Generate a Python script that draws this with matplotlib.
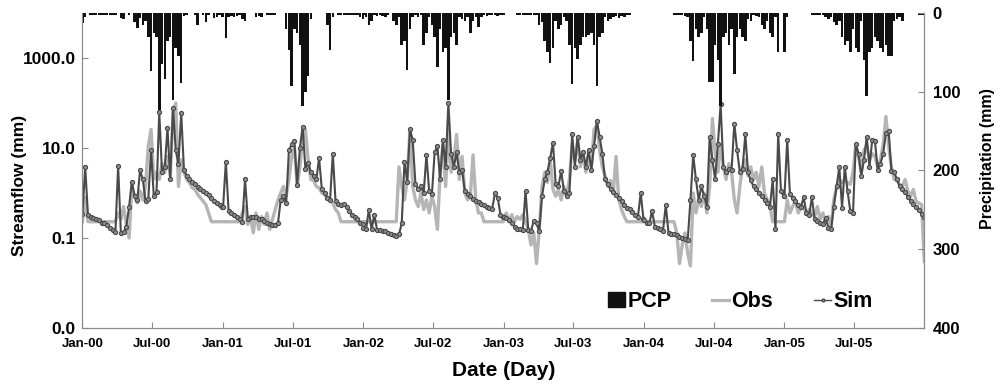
import numpy as np
import pandas as pd
import matplotlib
matplotlib.use("Agg")
import matplotlib.pyplot as plt
import matplotlib.dates as mdates
from matplotlib.lines import Line2D
from matplotlib.patches import Patch

plt.rcParams['font.family'] = ['Liberation Sans', 'DejaVu Sans']
plt.rcParams['font.weight'] = 'bold'

years = [2000, 2001, 2002, 2003, 2004, 2005]

# weekly values (52 per year)
sim_2000 = [0.35, 3.8, 0.32, 0.3, 0.28, 0.26, 0.25, 0.22, 0.21, 0.19, 0.17, 0.15, 0.135,
            4.0, 0.13, 0.135, 0.18, 0.5, 1.8, 0.85, 0.7, 3.2, 2.0, 0.65, 0.72, 9.0,
            0.85, 1.05, 63, 2.9, 3.8, 28, 2.0, 78, 9.0, 4.5, 60, 3.3, 2.4, 2.0,
            1.75, 1.55, 1.35, 1.2, 1.1, 1.0, 0.88, 0.77, 0.68, 0.6, 0.54, 0.49]
sim_2001 = [0.49, 5.0, 0.4, 0.36, 0.33, 0.29, 0.26, 0.23, 2.0, 0.27, 0.29, 0.3, 0.29,
            0.27, 0.26, 0.24, 0.21, 0.2, 0.19, 0.19, 0.21, 0.7, 0.85, 0.6, 9.0, 12,
            14, 1.5, 10, 30, 3.5, 4.6, 2.9, 2.4, 2.0, 6.0, 1.2, 1.0, 0.78, 0.7,
            7.5, 0.65, 0.58, 0.55, 0.58, 0.5, 0.4, 0.33, 0.3, 0.26, 0.22, 0.2]
sim_2002 = [0.17, 0.16, 0.42, 0.155, 0.33, 0.15, 0.15, 0.145, 0.14, 0.13, 0.12, 0.115, 0.11,
            0.12, 0.21, 5.0, 1.8, 26, 15, 1.55, 1.2, 1.4, 1.0, 7.0, 1.1, 0.93,
            8.0, 11, 2.0, 15, 3.8, 100, 7.5, 3.8, 8.0, 2.9, 3.3, 1.1, 0.93, 0.85,
            0.74, 0.68, 0.63, 0.58, 0.54, 0.5, 0.47, 0.45, 1.0, 0.78, 0.33, 0.3]
sim_2003 = [0.3, 0.28, 0.25, 0.21, 0.18, 0.16, 0.155, 0.15, 1.1, 0.15, 0.145, 0.24, 0.21,
            0.14, 0.85, 2.0, 2.9, 6.0, 13, 1.55, 1.4, 3.1, 1.1, 0.85, 1.0, 20,
            3.8, 18, 5.5, 8.0, 3.8, 9.0, 3.3, 11, 40, 18, 7.5, 2.0, 1.55, 1.2,
            1.05, 0.9, 0.78, 0.65, 0.55, 0.47, 0.43, 0.38, 0.33, 0.3, 1.0, 0.26]
sim_2004 = [0.25, 0.22, 0.21, 0.4, 0.18, 0.17, 0.155, 0.145, 0.55, 0.13, 0.125, 0.12, 0.115,
            0.105, 0.1, 0.095, 0.09, 0.7, 7.0, 2.0, 0.7, 1.4, 0.85, 0.5, 18, 5.5,
            2.0, 12, 93, 3.8, 2.9, 3.5, 3.3, 35, 9.0, 2.9, 3.5, 20, 2.9, 1.9,
            1.4, 1.2, 1.0, 0.85, 0.7, 0.6, 0.5, 2.0, 0.155, 20, 1.1, 0.85]
sim_2005 = [0.85, 15, 0.93, 0.78, 0.65, 0.55, 0.49, 0.8, 0.36, 0.32, 0.8, 0.26, 0.24,
            0.21, 0.2, 0.28, 0.17, 0.155, 0.5, 1.4, 3.8, 0.47, 3.8, 1.1, 0.4, 0.36,
            12, 7.5, 2.4, 5.5, 18, 3.8, 15, 14, 3.3, 4.5, 7.5, 22, 24, 3.1,
            2.9, 2.0, 1.4, 1.2, 1.05, 0.82, 0.68, 0.58, 0.49, 0.42, 0.35, 0.3]

obs_2000 = [0.23, 0.8, 0.23, 0.23, 0.23, 0.23, 0.23, 0.23, 0.23, 0.23, 0.23, 0.23, 0.23,
            0.36, 0.26, 0.5, 0.2, 0.1, 1.4, 0.85, 0.6, 1.1, 0.7, 1.4, 11, 26,
            2.0, 2.9, 2.0, 4.5, 2.9, 6.5, 2.4, 60, 100, 1.4, 5.5, 2.9, 2.0, 1.7,
            1.3, 1.2, 0.93, 0.78, 0.65, 0.55, 0.36, 0.23, 0.23, 0.23, 0.23, 0.23]
obs_2001 = [0.23, 0.23, 0.23, 0.23, 0.23, 0.23, 0.23, 0.36, 0.5, 0.2, 0.3, 0.13, 0.36,
            0.155, 0.3, 0.2, 0.36, 0.155, 0.26, 0.43, 0.7, 1.0, 1.4, 0.85, 2.0, 6.5,
            11, 1.4, 3.8, 15, 26, 5.5, 2.0, 1.9, 1.4, 1.3, 1.0, 0.93, 0.78, 0.7,
            0.6, 0.43, 0.36, 0.23, 0.23, 0.23, 0.23, 0.23, 0.23, 0.23, 0.23, 0.23]
obs_2002 = [0.23, 0.23, 0.23, 0.23, 0.23, 0.23, 0.23, 0.23, 0.23, 0.23, 0.23, 0.23, 0.23,
            3.8, 1.4, 0.7, 2.0, 26, 1.4, 0.7, 0.5, 1.0, 0.43, 0.7, 0.36, 0.85,
            0.5, 0.155, 2.9, 12, 1.4, 26, 2.9, 5.5, 20, 2.0, 6.5, 1.0, 0.7, 0.85,
            7.0, 0.7, 0.36, 0.36, 0.23, 0.23, 0.23, 0.23, 0.23, 0.23, 0.23, 0.23]
obs_2003 = [0.3, 0.36, 0.23, 0.33, 0.23, 0.3, 0.26, 0.33, 0.23, 0.155, 0.07, 0.13, 0.027,
            0.155, 1.4, 2.9, 1.7, 5.5, 1.2, 0.85, 1.2, 0.7, 1.4, 0.85, 2.0, 12,
            5.5, 15, 3.8, 7.5, 2.9, 6.5, 3.8, 26, 32, 9.0, 3.8, 2.4, 1.4, 1.9,
            1.0, 6.5, 0.7, 0.43, 0.3, 0.23, 0.23, 0.23, 0.23, 0.23, 0.23, 0.23]
obs_2004 = [0.23, 0.23, 0.23, 0.23, 0.23, 0.23, 0.23, 0.23, 0.23, 0.23, 0.23, 0.23, 0.13,
            0.027, 0.07, 0.13, 0.045, 0.024, 1.0, 0.36, 0.7, 0.5, 1.0, 0.36, 1.4, 45,
            7.5, 2.9, 12, 3.8, 2.0, 4.5, 2.9, 0.7, 0.36, 1.4, 3.8, 5.5, 2.4, 3.8,
            2.0, 2.9, 1.4, 3.8, 1.0, 0.7, 0.5, 0.23, 0.23, 0.23, 0.23, 0.23]
obs_2005 = [0.23, 0.7, 0.36, 0.5, 0.7, 0.36, 0.47, 0.5, 0.33, 0.43, 0.36, 0.3, 0.5,
            0.26, 0.36, 0.22, 0.3, 0.18, 0.7, 1.4, 2.0, 1.7, 1.9, 1.7, 1.55, 2.9,
            12, 6.5, 2.9, 9.0, 11, 5.5, 7.5, 6.5, 3.8, 5.5, 12, 50, 11, 3.8,
            2.0, 1.9, 1.55, 1.4, 2.0, 1.1, 0.85, 1.2, 0.65, 0.6, 0.55, 0.03]

pcp_2000 = [13, 5, 0, 3, 3, 2, 3, 2, 3, 2, 3, 3, 2,
            0, 6, 8, 0, 3, 0, 12, 19, 6, 15, 10, 30, 74,
            25, 30, 123, 65, 84, 35, 30, 110, 45, 55, 89, 4, 3, 0,
            0, 3, 15, 0, 3, 12, 3, 0, 6, 5, 3, 5]
pcp_2001 = [3, 32, 5, 4, 5, 4, 3, 8, 10, 0, 0, 0, 5,
            4, 5, 0, 3, 2, 3, 2, 0, 0, 0, 20, 47, 93,
            20, 25, 40, 118, 100, 80, 8, 0, 0, 0, 0, 0, 15, 47,
            5, 0, 3, 3, 2, 3, 2, 3, 3, 3, 5, 8]
pcp_2002 = [3, 5, 15, 10, 3, 4, 3, 4, 5, 3, 0, 10, 15,
            5, 40, 35, 72, 20, 5, 3, 5, 3, 40, 25, 5, 15,
            30, 68, 20, 50, 45, 110, 30, 25, 40, 5, 8, 10, 5, 25,
            10, 5, 18, 5, 3, 4, 2, 3, 3, 4, 3, 3]
pcp_2003 = [3, 0, 0, 0, 0, 2, 3, 3, 2, 3, 3, 2, 3,
            15, 12, 35, 50, 64, 45, 10, 20, 15, 5, 10, 40, 90,
            45, 58, 40, 30, 30, 28, 25, 40, 93, 30, 25, 5, 10, 8,
            5, 4, 6, 4, 5, 3, 2, 0, 0, 0, 0, 0]
pcp_2004 = [0, 0, 0, 0, 0, 0, 0, 0, 0, 0, 0, 3, 3,
            2, 3, 4, 5, 35, 61, 20, 30, 25, 5, 20, 87, 88,
            40, 60, 118, 30, 25, 40, 20, 77, 30, 20, 30, 35, 8, 10,
            3, 4, 5, 15, 20, 10, 25, 30, 5, 49, 0, 0]
pcp_2005 = [49, 5, 0, 0, 0, 0, 0, 0, 0, 0, 3, 3, 2,
            3, 3, 5, 8, 5, 12, 15, 10, 30, 41, 35, 50, 20,
            45, 50, 10, 60, 105, 50, 45, 30, 35, 45, 50, 40, 55, 55,
            10, 8, 5, 10, 0, 0, 0, 0, 0, 3, 2, 3]

sim = sim_2000 + sim_2001 + sim_2002 + sim_2003 + sim_2004 + sim_2005
obs = obs_2000 + obs_2001 + obs_2002 + obs_2003 + obs_2004 + obs_2005
pcp = pcp_2000 + pcp_2001 + pcp_2002 + pcp_2003 + pcp_2004 + pcp_2005

dates = []
for y in years:
    start = pd.Timestamp(f"{y}-01-01")
    for d in np.linspace(0, 364, 52):
        dates.append(start + pd.Timedelta(days=float(d)))
dates = pd.to_datetime(dates)

fig = plt.figure(figsize=(10.01, 3.87), dpi=100)
ax = fig.add_axes([0.0824, 0.1525, 0.8410, 0.8139])
ax2 = ax.twinx()

ax.plot(dates, obs, color='#b5b5b5', lw=2.4, zorder=2)
ax.plot(dates, sim, color='#4a4a4a', lw=1.5, marker='o', ms=3.0,
        mfc='#8c8c8c', mec='#4a4a4a', mew=0.8, zorder=3)

ax2.bar(dates, pcp, width=6.5, color='#111111', align='center')

ax.set_yscale('log')
ax.set_ylim(0.001, 10000)
ax.set_yticks([0.001, 0.1, 10, 1000])
ax.set_yticklabels(['0.0', '0.1', '10.0', '1000.0'])
ax.minorticks_off()
ax2.set_ylim(400, 0)
ax2.set_yticks([0, 100, 200, 300, 400])

ax.set_xlim(pd.Timestamp("2000-01-01"), pd.Timestamp("2005-12-31"))
ax.xaxis.set_major_locator(mdates.MonthLocator(bymonth=[1, 7]))
ax.xaxis.set_major_formatter(mdates.DateFormatter('%b-%y'))

for a in (ax, ax2):
    for s in a.spines.values():
        s.set_color('#8a8a8a')
    a.spines['top'].set_visible(False)
ax.tick_params(axis='x', direction='in', length=4, color='#8a8a8a', labelsize=9.5, pad=7)
ax.tick_params(axis='y', direction='in', length=4, color='#8a8a8a', labelsize=12.5, pad=5)
ax2.tick_params(axis='y', direction='in', length=4, color='#8a8a8a', labelsize=12, pad=6)

ax.set_xlabel('Date (Day)', fontsize=15, fontweight='bold')
ax.set_ylabel('Streamflow (mm)', fontsize=12.5, fontweight='bold')
ax2.set_ylabel('Precipitation (mm)', fontsize=11.5, fontweight='bold')
ax.xaxis.set_label_coords(0.5, -0.105)
ax.yaxis.set_label_coords(-0.066, 0.454)
ax2.yaxis.set_label_coords(1.066, 0.537)

handles = [Patch(color='#111111'),
           Line2D([], [], color='#b5b5b5', lw=2.3),
           Line2D([], [], color='#4a4a4a', lw=1.0, marker='o', ms=2, mfc='#a8a8a8')]
ax2.legend(handles, ['PCP', 'Obs', 'Sim'], loc='center right', bbox_to_anchor=(0.962, 0.083),
           ncol=3, frameon=False, handlelength=0.8, handletextpad=0.1,
           columnspacing=1.9, prop={'weight': 'bold', 'size': 15.5})

fig.savefig('out.png', dpi=100)
